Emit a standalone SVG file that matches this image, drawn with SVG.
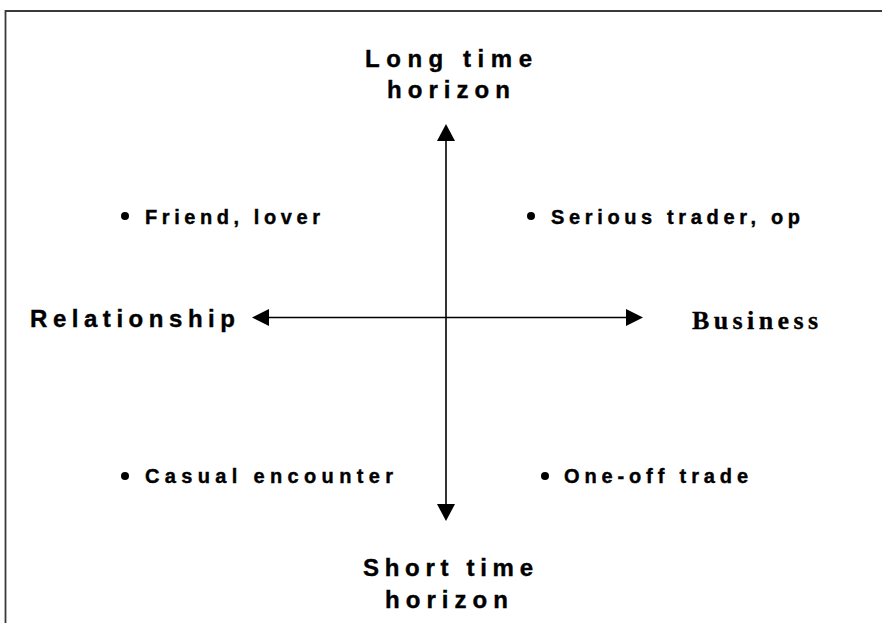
<svg xmlns="http://www.w3.org/2000/svg" width="882" height="623" viewBox="0 0 882 623">
  <style>
    .frame { fill: none; stroke: #3a3a3a; stroke-width: 1.8; }
    .axis { fill: none; stroke: #000; stroke-width: 1.6; }
    .head { fill: #000; }
    .big { font-family: "Liberation Sans", Arial, sans-serif; font-weight: bold; font-size: 24px; fill: #000; stroke: #000; stroke-width: 0.4; }
    .item { font-family: "Liberation Sans", Arial, sans-serif; font-weight: bold; font-size: 20px; fill: #000; stroke: #000; stroke-width: 0.4; }
    .serif { font-family: "Liberation Serif", "Times New Roman", serif; font-weight: bold; font-size: 26px; fill: #000; stroke: #000; stroke-width: 0.3; }
    .dot { fill: #000; }
  </style>
  <rect width="882" height="623" fill="#fff"/>
  <path class="frame" d="M5.5,623 L5.5,11 L882,11"/>

  <g id="connectors">
    <line class="axis" x1="446" y1="138" x2="446" y2="506"/>
    <polygon class="head" points="446,124 437,141 455,141"/>
    <polygon class="head" points="446,521 437,504 455,504"/>
    <line class="axis" x1="266" y1="317.5" x2="628" y2="317.5"/>
    <polygon class="head" points="252,317.5 269,309 269,326"/>
    <polygon class="head" points="643,317.5 626,309 626,326"/>
  </g>

  <g id="long-time-horizon">
    <text class="big" x="365" y="67" textLength="167" lengthAdjust="spacing">Long time</text>
    <text class="big" x="387" y="98" textLength="123" lengthAdjust="spacing">horizon</text>
  </g>

  <g id="short-time-horizon">
    <text class="big" x="363" y="576" textLength="170" lengthAdjust="spacing">Short time</text>
    <text class="big" x="385" y="608" textLength="123" lengthAdjust="spacing">horizon</text>
  </g>

  <g id="relationship">
    <text class="big" x="30" y="327" textLength="205" lengthAdjust="spacing">Relationship</text>
  </g>

  <g id="business">
    <text class="serif" x="692" y="329" textLength="126" lengthAdjust="spacing">Business</text>
  </g>

  <g id="friend-lover">
    <circle class="dot" cx="125" cy="216" r="4"/>
    <text class="item" x="145" y="224" textLength="175" lengthAdjust="spacing">Friend, lover</text>
  </g>

  <g id="serious-trader">
    <circle class="dot" cx="531" cy="216" r="4"/>
    <text class="item" x="551" y="224" textLength="249" lengthAdjust="spacing">Serious trader, op</text>
  </g>

  <g id="casual-encounter">
    <circle class="dot" cx="125" cy="476" r="4"/>
    <text class="item" x="145" y="483" textLength="248" lengthAdjust="spacing">Casual encounter</text>
  </g>

  <g id="one-off-trade">
    <circle class="dot" cx="545" cy="476" r="4"/>
    <text class="item" x="564" y="483" textLength="184" lengthAdjust="spacing">One-off trade</text>
  </g>
</svg>
